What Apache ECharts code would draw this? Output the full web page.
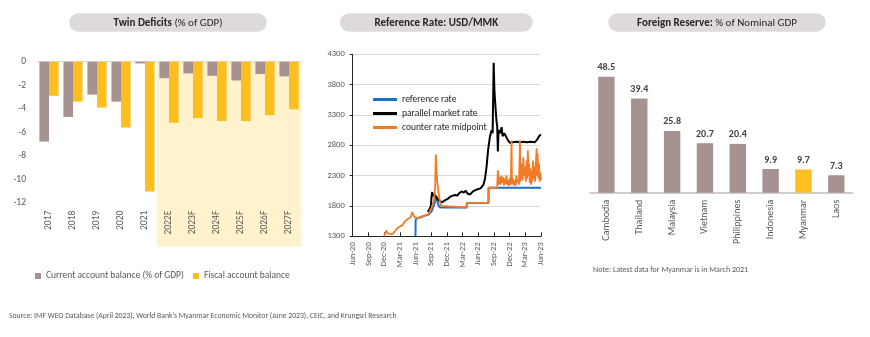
<!DOCTYPE html>
<html><head><meta charset="utf-8">
<script src="https://cdn.jsdelivr.net/npm/echarts@6/dist/echarts.min.js"></script>
<style>html,body{margin:0;padding:0;background:#fff}#c{width:870px;height:337px}</style>
</head><body><div id="c"></div>
<script>
// ---------- Twin deficits ----------
const twinYears = ['2017','2018','2019','2020','2021','2022E','2023F','2024F','2025F','2026F','2027F'];
const currentAccount = [-6.8,-4.7,-2.8,-3.4,-0.15,-1.4,-1.0,-1.2,-1.6,-1.05,-1.25];
const fiscalBalance = [-2.9,-3.4,-3.9,-5.6,-11.05,-5.2,-4.8,-5.05,-5.05,-4.55,-4.05];
const forecastStart = '2022E';

// ---------- Reference rate ----------
const rateTickLabels = ['Jun-20','Sep-20','Dec-20','Mar-21','Jun-21','Sep-21','Dec-21','Mar-22','Jun-22','Sep-22','Dec-22','Mar-23','Jun-23'];
const referenceRate = [['2021-06-01',1300],['2021-06-02',1580],['2021-06-15',1600],['2021-07-01',1615],['2021-07-15',1630],['2021-08-01',1645],['2021-08-15',1655],['2021-08-25',1670],['2021-09-05',1720],['2021-09-15',1800],['2021-09-22',1850],['2021-09-29',1970],['2021-10-05',1900],['2021-10-12',1820],['2021-10-20',1780],['2021-11-01',1760],['2021-11-05',1775],['2022-03-25',1775],['2022-03-26',1850],['2022-07-30',1850],['2022-07-31',2100],['2023-06-01',2100]];
const parallelRate = [['2021-08-12',1700],['2021-08-22',1750],['2021-08-30',1800],['2021-09-03',1950],['2021-09-07',2030],['2021-09-10',1960],['2021-09-16',2000],['2021-09-24',1980],['2021-10-02',1940],['2021-10-12',1900],['2021-10-22',1870],['2021-11-01',1860],['2021-11-12',1880],['2021-11-25',1900],['2021-12-08',1920],['2021-12-20',1950],['2022-01-05',1970],['2022-01-18',1980],['2022-02-01',1970],['2022-02-12',2010],['2022-02-25',2040],['2022-03-08',2020],['2022-03-20',2050],['2022-04-01',2000],['2022-04-15',1990],['2022-05-01',2040],['2022-05-15',2060],['2022-06-01',2080],['2022-06-15',2090],['2022-07-01',2150],['2022-07-10',2250],['2022-07-19',2445],['2022-07-28',2720],['2022-08-08',2940],['2022-08-18',3050],['2022-08-24',3000],['2022-08-30',4160],['2022-09-04',3700],['2022-09-10',3435],['2022-09-16',3200],['2022-09-20',3120],['2022-09-24',2700],['2022-09-28',3050],['2022-10-08',3000],['2022-10-15',3100],['2022-10-21',2950],['2022-10-30',3000],['2022-11-12',2940],['2022-11-22',2880],['2022-12-03',2840],['2022-12-20',2850],['2023-01-10',2860],['2023-02-01',2855],['2023-02-20',2860],['2023-03-10',2850],['2023-04-01',2860],['2023-04-27',2850],['2023-05-10',2900],['2023-05-20',2950],['2023-06-01',2980]];
const counterRate = [['2020-12-01',1300],['2020-12-08',1330],['2020-12-14',1400],['2020-12-20',1350],['2021-01-01',1330],['2021-01-20',1335],['2021-02-01',1340],['2021-02-08',1400],['2021-02-15',1420],['2021-02-25',1450],['2021-03-05',1430],['2021-03-15',1480],['2021-03-25',1500],['2021-04-05',1560],['2021-04-12',1540],['2021-04-20',1590],['2021-04-28',1580],['2021-05-05',1620],['2021-05-12',1700],['2021-05-18',1680],['2021-05-25',1620],['2021-06-01',1590],['2021-06-15',1600],['2021-07-01',1620],['2021-07-15',1630],['2021-08-01',1650],['2021-08-15',1660],['2021-08-25',1680],['2021-09-05',1780],['2021-09-12',1850],['2021-09-18',1900],['2021-09-24',2100],['2021-09-28',2650],['2021-10-02',2400],['2021-10-06',2200],['2021-10-12',2050],['2021-10-20',1900],['2021-10-28',1800],['2021-11-05',1775],['2022-03-25',1775],['2022-03-26',1850],['2022-07-30',1850],['2022-07-31',2100],['2022-09-20',2100],['2022-09-24',2390],['2022-09-28',2150],['2022-10-04',2280],['2022-10-09',2150],['2022-10-14',2300],['2022-10-19',2180],['2022-10-24',2270],['2022-10-29',2140],['2022-11-03',2250],['2022-11-08',2160],['2022-11-13',2300],['2022-11-18',2150],['2022-11-23',2230],['2022-11-28',2130],['2022-12-03',2260],['2022-12-08',2150],['2022-12-12',2880],['2022-12-15',2160],['2022-12-20',2250],['2022-12-25',2140],['2022-12-30',2220],['2023-01-05',2130],['2023-01-10',2300],['2023-01-15',2180],['2023-01-20',2240],['2023-01-25',2150],['2023-01-31',2880],['2023-02-03',2200],['2023-02-06',2420],['2023-02-09',2250],['2023-02-12',2500],['2023-02-16',2220],['2023-02-20',2600],['2023-02-24',2300],['2023-02-28',2450],['2023-03-04',2200],['2023-03-08',2550],['2023-03-12',2250],['2023-03-16',2720],['2023-03-19',2300],['2023-03-23',2500],['2023-03-27',2180],['2023-03-31',2420],['2023-04-04',2150],['2023-04-08',2380],['2023-04-12',2200],['2023-04-16',2550],['2023-04-20',2250],['2023-04-24',2450],['2023-04-28',2200],['2023-05-03',2600],['2023-05-06',2750],['2023-05-09',2300],['2023-05-12',2660],['2023-05-16',2250],['2023-05-20',2500],['2023-05-24',2200],['2023-05-28',2350],['2023-06-01',2230]];

// ---------- Foreign reserve ----------
const countries = ['Cambodia','Thailand','Malaysia','Vietnam','Philippines','Indonesia','Myanmar','Laos'];
const reserveValues = [48.5,39.4,25.8,20.7,20.4,9.9,9.7,7.3];
const highlightCountry = 'Myanmar';

// ---------- helpers ----------
function monthIndex(d){const p=d.split('-').map(Number);return (p[0]-2020)*12+(p[1]-6)+(p[2]-1)/30.5;}
function toXY(arr){return arr.map(r=>[monthIndex(r[0]),r[1]]);}

const FONT = 'Carlito, Lato, sans-serif';
const GREY = '#595959';
const MAUVE = '#a69391';
const YELLOW = '#fcbf1f';

const chart = echarts.init(document.getElementById('c'), null, {renderer:'canvas'});

const option = {
  animation:false,
  textStyle:{fontFamily:FONT},
  grid:[
    {left:37, right:569, top:61.7, bottom:134.3},
    {left:352.7, right:329, top:54.3, bottom:100.7},
    {left:590, right:17.3, top:49.2, bottom:144.3}
  ],
  legend:[
    {data:['Current account balance (% of GDP)','Fiscal account balance'], left:30, top:266,
     icon:'rect', itemWidth:6, itemHeight:6, itemGap:9,
     textStyle:{fontFamily:FONT, fontSize:9.5, color:GREY}},
    {data:['reference rate','parallel market rate','counter rate midpoint'], orient:'vertical', left:368, top:89,
     icon:'rect', itemWidth:24, itemHeight:3, itemGap:3,
     textStyle:{fontFamily:FONT, fontSize:9.5, color:'#262626', lineHeight:11}}
  ],
  xAxis:[
    {type:'category', gridIndex:0, data:twinYears, position:'bottom',
     axisLine:{show:false, onZero:false}, axisTick:{show:false},
     axisLabel:{rotate:90, fontSize:9.5, color:GREY, margin:8, fontFamily:FONT}},
    {type:'category', gridIndex:0, data:twinYears, position:'top',
     axisLine:{show:true, onZero:false, lineStyle:{color:'#d9d9d9'}}, axisTick:{show:false}, axisLabel:{show:false}},
    {type:'value', gridIndex:1, min:0, max:36, interval:3,
     axisLine:{show:true, onZero:false, lineStyle:{color:'#262626'}},
     axisTick:{show:true, inside:true, length:4, lineStyle:{color:'#262626'}},
     splitLine:{show:false},
     axisLabel:{rotate:90, fontSize:8.5, color:GREY, margin:6, fontFamily:FONT,
       formatter:v=>rateTickLabels[Math.round(v/3)]||''}},
    {type:'category', gridIndex:2, data:countries,
     axisLine:{show:true, lineStyle:{color:'#bfbfbf', width:1.5}}, axisTick:{show:false},
     axisLabel:{rotate:90, fontSize:10, color:GREY, margin:7, fontFamily:FONT}}
  ],
  yAxis:[
    {type:'value', gridIndex:0, min:-12, max:0, interval:2,
     axisLine:{show:false}, axisTick:{show:false}, splitLine:{show:false},
     axisLabel:{fontSize:9.5, color:GREY, margin:11, fontFamily:FONT}},
    {type:'value', gridIndex:1, min:1300, max:4300, interval:500,
     axisLine:{show:true, lineStyle:{color:'#262626'}},
     axisTick:{show:true, length:3, lineStyle:{color:'#262626'}},
     splitLine:{show:true, lineStyle:{color:'#d9d9d9'}},
     axisLabel:{fontSize:8.5, color:GREY, margin:8, fontFamily:FONT, formatter:v=>String(v)}},
    {type:'value', gridIndex:2, min:0, max:60, show:false}
  ],
  series:[
    {name:'Current account balance (% of GDP)', type:'bar', xAxisIndex:0, yAxisIndex:0,
     data:currentAccount, itemStyle:{color:MAUVE}, barGap:'0%', barCategoryGap:'20%', z:3},
    {name:'Fiscal account balance', type:'bar', xAxisIndex:0, yAxisIndex:0,
     data:fiscalBalance, itemStyle:{color:YELLOW}, barGap:'0%', barCategoryGap:'20%', z:3},
    {name:'reference rate', type:'line', xAxisIndex:2, yAxisIndex:1, data:toXY(referenceRate),
     showSymbol:false, lineStyle:{color:'#1a73c9', width:2}, itemStyle:{color:'#1a73c9'}, z:2},
    {name:'parallel market rate', type:'line', xAxisIndex:2, yAxisIndex:1, data:toXY(parallelRate),
     showSymbol:false, lineStyle:{color:'#000000', width:2}, itemStyle:{color:'#000000'}, z:3},
    {name:'counter rate midpoint', type:'line', xAxisIndex:2, yAxisIndex:1, data:toXY(counterRate),
     showSymbol:false, lineStyle:{color:'#f47b26', width:1.8}, itemStyle:{color:'#f47b26'}, z:4},
    {name:'Foreign Reserve', type:'bar', xAxisIndex:3, yAxisIndex:2,
     data:reserveValues.map((v,i)=>({value:v, itemStyle:{color: countries[i]===highlightCountry?YELLOW:MAUVE}})),
     barWidth:'50%',
     label:{show:true, position:'top', distance:4, fontSize:10, fontWeight:'bold', color:'#404040', fontFamily:FONT,
       formatter:p=>p.value.toFixed(1)}}
  ]
};
chart.setOption(option);

// decorative graphics: title pills, forecast shading, notes
const idxStart = twinYears.indexOf(forecastStart);
const band = chart.convertToPixel({xAxisIndex:0}, twinYears[1]) - chart.convertToPixel({xAxisIndex:0}, twinYears[0]);
const shadeX0 = chart.convertToPixel({xAxisIndex:0}, twinYears[idxStart]) - band/2;
const shadeX1 = chart.convertToPixel({xAxisIndex:0}, twinYears[twinYears.length-1]) + band/2;
const shadeY0 = chart.convertToPixel({yAxisIndex:0}, 0);
const shadeY1 = chart.convertToPixel({yAxisIndex:0}, -12) + 44;

function pill(cx, w, text, rich){
  return [
    {type:'rect', shape:{x:cx-w/2, y:13.3, width:w, height:18.4, r:9.2}, style:{fill:'#dedad9'}, silent:true},
    {type:'text', x:cx, y:22.8, style:{text:text, rich:rich, align:'center', verticalAlign:'middle', fontFamily:FONT}, silent:true}
  ];
}
const richT = {b:{fontWeight:'bold', fontSize:11, fill:'#262626', fontFamily:FONT}, n:{fontSize:11, fill:'#262626', fontFamily:FONT}};

chart.setOption({graphic:[
  {type:'rect', shape:{x:shadeX0, y:shadeY0, width:shadeX1-shadeX0, height:shadeY1-shadeY0}, style:{fill:'#fff2cc'}, z:-1, silent:true},
  ...pill(168, 197.4, '{b|Twin Deficits}{n| (% of GDP)}', richT),
  ...pill(436.3, 192.7, '{b|Reference Rate: USD/MMK}', richT),
  ...pill(717, 217.4, '{b|Foreign Reserve:}{n| % of Nominal GDP}', richT),
  {type:'text', x:593, y:269.5, style:{text:'Note: Latest data for Myanmar is in March 2021', fontSize:8, fill:GREY, fontFamily:FONT, verticalAlign:'middle'}, silent:true},
  {type:'text', x:9, y:316.5, style:{text:'Source: IMF WEO Database (April 2023), World Bank\u2019s Myanmar Economic Monitor (June 2023), CEIC, and Krungsri Research', fontSize:7.7, fill:GREY, fontFamily:FONT, verticalAlign:'middle'}, silent:true}
]});
</script>
</body></html>
